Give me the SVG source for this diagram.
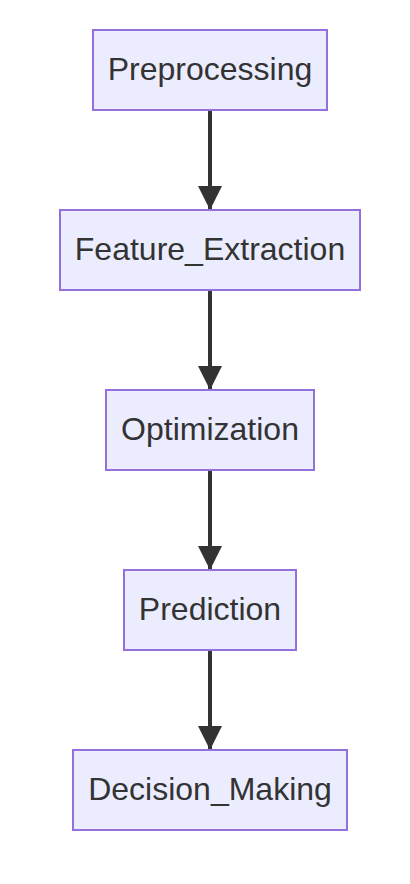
<svg xmlns="http://www.w3.org/2000/svg" width="410" height="884" viewBox="0 0 410 884">
<defs>
<style>
.node rect{fill:#ECECFF;stroke:#9370DB;stroke-width:2}
.node text{font-family:"Liberation Sans",Arial,sans-serif;font-size:32px;fill:#333;text-anchor:middle;dominant-baseline:central}
.edge{stroke:#333;stroke-width:4;fill:none;marker-end:url(#arrow)}
</style>
<marker id="arrow" viewBox="0 0 24 24" refX="24" refY="12" markerWidth="24" markerHeight="24" markerUnits="userSpaceOnUse" orient="auto">
<path d="M0,0 L24,12 L0,24 Z" fill="#333"/>
</marker>
</defs>
<rect width="410" height="884" fill="#fff"/>
<g id="connectors">
<path class="edge" d="M210,111 L210,210"/>
<path class="edge" d="M210,291 L210,390"/>
<path class="edge" d="M210,471 L210,570"/>
<path class="edge" d="M210,651 L210,750"/>
</g>
<g id="Preprocessing" class="node"><rect x="93" y="30" width="234" height="80"/><text x="210" y="69">Preprocessing</text></g>
<g id="Feature_Extraction" class="node"><rect x="60" y="210" width="300" height="80"/><text x="210" y="249">Feature_Extraction</text></g>
<g id="Optimization" class="node"><rect x="106" y="390" width="208" height="80"/><text x="210" y="429">Optimization</text></g>
<g id="Prediction" class="node"><rect x="124" y="570" width="172" height="80"/><text x="210" y="609">Prediction</text></g>
<g id="Decision_Making" class="node"><rect x="73" y="750" width="274" height="80"/><text x="210" y="789">Decision_Making</text></g>
</svg>
